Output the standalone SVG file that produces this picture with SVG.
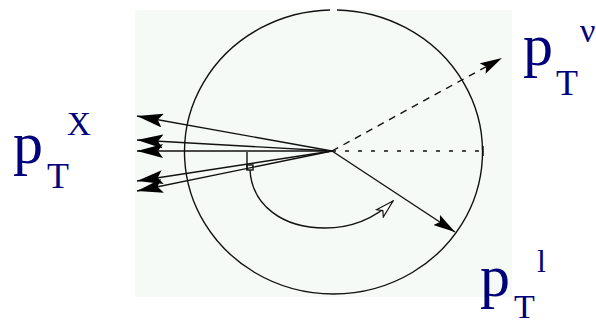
<svg xmlns="http://www.w3.org/2000/svg" width="596" height="327" viewBox="0 0 596 327">
<style>
.ln{fill:none;stroke:#111;stroke-width:1.4}
.lbl{font-family:"Liberation Serif","Times New Roman",serif;fill:#00007a}
</style>
<defs>
<marker id="ah" markerUnits="userSpaceOnUse" viewBox="0 0 26 14" refX="26" refY="7" markerWidth="26" markerHeight="14" orient="auto">
<path d="M0,0 L26,7 L0,14 L5,7 z" fill="#000"/>
</marker>
<marker id="ah2" markerUnits="userSpaceOnUse" viewBox="0 0 22 12" refX="22" refY="6" markerWidth="22" markerHeight="12" orient="auto">
<path d="M0,0 L22,6 L0,12 L4,6 z" fill="#000"/>
</marker>
<marker id="hollow" markerUnits="userSpaceOnUse" viewBox="0 0 20 12" refX="19" refY="6" markerWidth="20" markerHeight="12" orient="auto">
<path d="M1,1 L19,6 L1,11 L5,6 z" fill="#fff" stroke="#111" stroke-width="1.2"/>
</marker>
</defs>
<rect x="135" y="10" width="377" height="287" fill="#f5faf7"/>
<g id="circle">
<path class="ln" d="M337,10 A149,142 0 1 1 330,10"/>
</g>
<g id="connectors">
<line class="ln" x1="332" y1="151" x2="137" y2="116" marker-end="url(#ah)"/>
<line class="ln" x1="332" y1="151" x2="137" y2="140" marker-end="url(#ah)"/>
<line class="ln" x1="332" y1="151" x2="137" y2="151" marker-end="url(#ah)"/>
<line class="ln" x1="332" y1="151" x2="137" y2="181" marker-end="url(#ah)"/>
<line class="ln" x1="332" y1="151" x2="137" y2="191" marker-end="url(#ah)"/>
<line class="ln" x1="332" y1="151" x2="483" y2="151" stroke-dasharray="4 9"/>
<line class="ln" x1="483" y1="146" x2="483" y2="156"/>
<line class="ln" x1="332" y1="151" x2="502" y2="58" stroke-dasharray="7 6" marker-end="url(#ah2)"/>
<line class="ln" x1="332" y1="151" x2="455" y2="232" marker-end="url(#ah2)"/>
<line class="ln" x1="247" y1="152" x2="247" y2="170"/>
<rect class="ln" x="247" y="165" width="6" height="5"/>
<path class="ln" d="M250,170 C252,205 282,228 325,228 C352,228 375,218 393,201" marker-end="url(#hollow)"/>
</g>
<g id="label-x">
<text class="lbl" x="13" y="163" font-size="60">p</text>
<text class="lbl" x="47" y="188" font-size="36">T</text>
<text class="lbl" x="67" y="135" font-size="33">X</text>
</g>
<g id="label-nu">
<text class="lbl" x="523" y="65" font-size="60">p</text>
<text class="lbl" x="556" y="95" font-size="36">T</text>
<text class="lbl" x="580" y="42" font-size="34">ν</text>
</g>
<g id="label-l">
<text class="lbl" x="480" y="296" font-size="60">p</text>
<text class="lbl" x="514" y="318" font-size="34">T</text>
<text class="lbl" x="537" y="272" font-size="32">l</text>
</g>
</svg>
